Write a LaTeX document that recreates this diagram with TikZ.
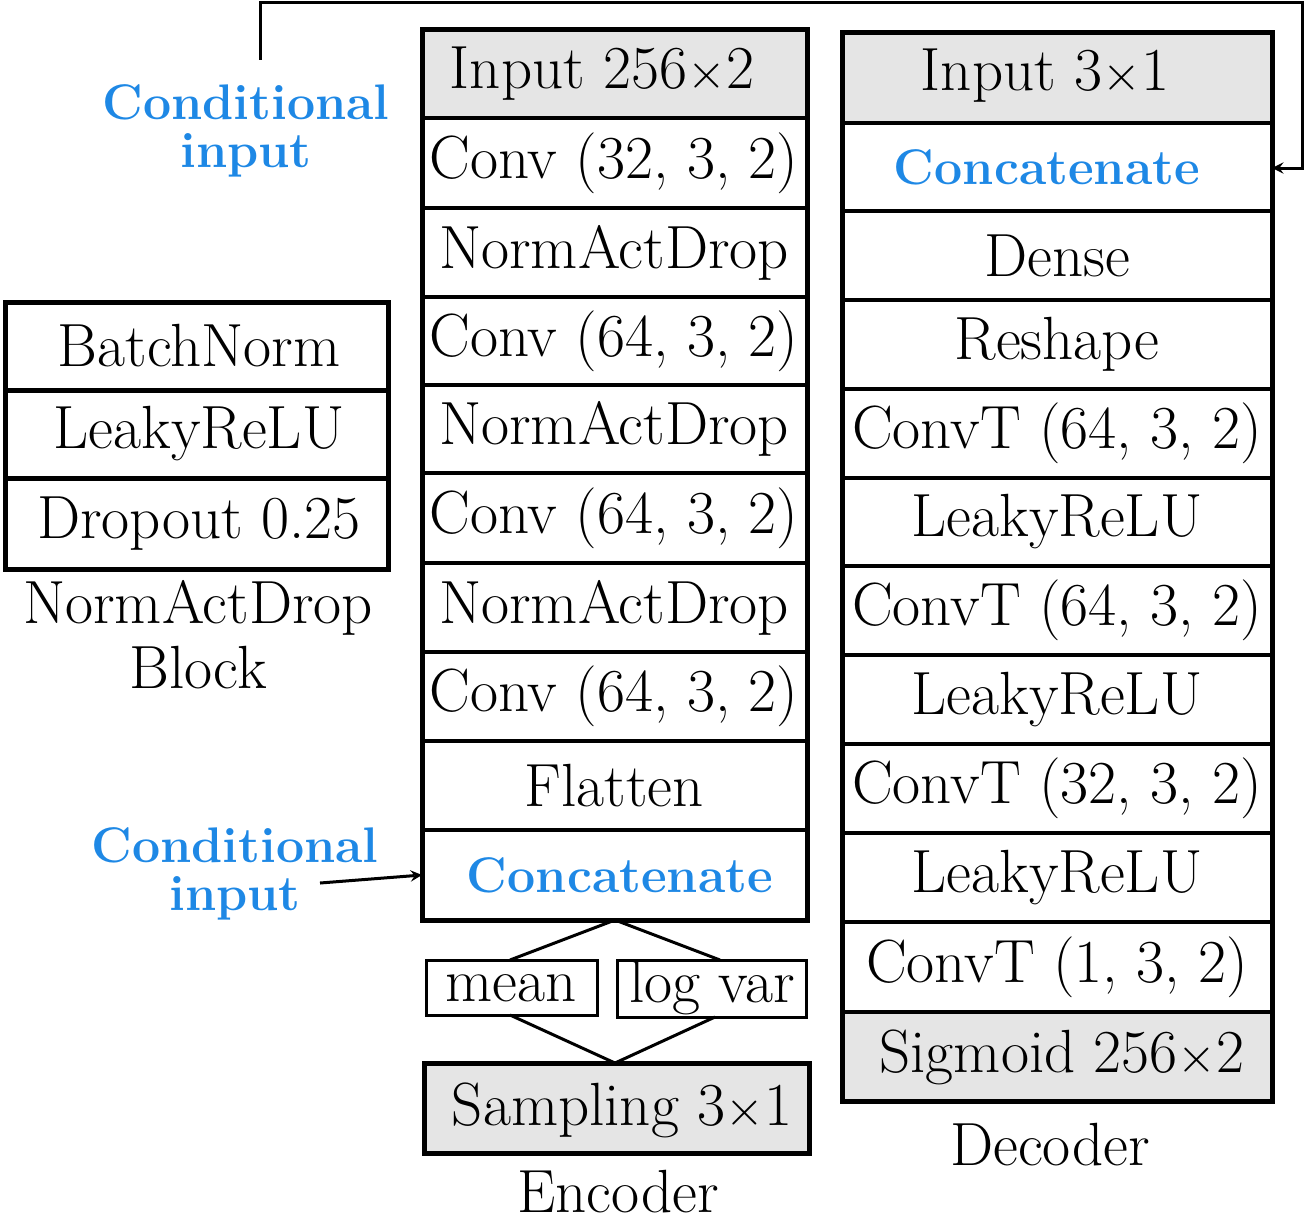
\documentclass[tikz,border=0pt]{standalone}
\begin{document}
\begin{tikzpicture}[x=0.5pt,y=-0.5pt,
  txt/.style={font=\fontsize{30.5}{34}\selectfont,inner sep=0pt},
  btxt/.style={font=\fontsize{25}{28}\selectfont\bfseries,text=cblue,inner sep=0pt}]
\definecolor{cblue}{RGB}{30,136,229}
\useasboundingbox (0,0) rectangle (1309,1220);
% encoder
\draw[line width=2pt,fill=black!10] (422,30) rectangle (807,118);
\node[txt] (e0) at (602,74) {Input 256$\times$2};
\foreach \a/\b/\t/\n in {118/208/{Conv (32, 3, 2)}/e1,208/297/NormActDrop/e2,297/385/{Conv (64, 3, 2)}/e3,385/473/NormActDrop/e4,473/563/{Conv (64, 3, 2)}/e5,563/652/NormActDrop/e6,652/741/{Conv (64, 3, 2)}/e7,741/830/Flatten/e8}
  {\draw[line width=2pt] (422,\a) rectangle (807,\b); \node[txt] (\n) at (614,{(\a+\b)/2}) {\t};}
\draw[line width=2pt] (422,830) rectangle (807,920);
\node[btxt] (ec) at (620,875) {Concatenate};
\draw[line width=2.5pt] (422,30) rectangle (807,920);
\draw[line width=1.5pt] (426,960) rectangle (597,1015);
\node[txt] (mean) at (511,988) {mean};
\draw[line width=1.5pt] (617,960) rectangle (806,1017);
\node[txt] (lv) at (712,988) {log var};
\draw[line width=1.5pt] (615,920) -- (510,960) (615,920) -- (720,960);
\draw[line width=1.5pt] (510,1015) -- (615,1063) -- (715,1017);
\draw[line width=2.5pt,fill=black!10] (424,1063) rectangle (809,1153);
\node[txt] (samp) at (622,1110) {Sampling 3$\times$1};
\node[txt] at (618,1192) {Encoder};
% decoder
\foreach \a/\b/\t/\n in {123/211/{}/d1,211/300/Dense/d2,300/389/Reshape/d3,389/478/{ConvT (64, 3, 2)}/d4,478/566/LeakyReLU/d5,566/655/{ConvT (64, 3, 2)}/d6,655/744/LeakyReLU/d7,744/833/{ConvT (32, 3, 2)}/d8,833/922/LeakyReLU/d9,922/1012/{ConvT (1, 3, 2)}/d10}
  {\draw[line width=2pt] (842,\a) rectangle (1272,\b); \node[txt] (\n) at (1057,{(\a+\b)/2}) {\t};}
\draw[line width=2pt,fill=black!10] (842,33) rectangle (1272,123);
\node[txt] (d0) at (1045,76) {Input 3$\times$1};
\draw[line width=2pt,fill=black!10] (842,1012) rectangle (1272,1101);
\node[txt] (d11) at (1062,1057) {Sigmoid 256$\times$2};
\node[btxt] (dc) at (1047,167) {Concatenate};
\draw[line width=2.5pt] (842,33) rectangle (1272,1101);
\node[txt] at (1050,1145) {Decoder};
% block
\foreach \a/\b/\t in {302/390/BatchNorm,390/478/LeakyReLU,478/569/{Dropout 0.25}}
  {\draw[line width=2.5pt] (5,\a) rectangle (388,\b); \node[txt] at (199,{(\a+\b)/2}) {\t};}
\node[txt] at (198,608) {NormActDrop};
\node[txt] at (198,668) {Block};
% conditional inputs
\node[btxt] (c1) at (246,102) {Conditional};
\node[btxt] (c1b) at (246,155) {input};
\node[btxt] (c2) at (235,845) {Conditional};
\node[btxt] (c2b) at (235,898) {input};
\coordinate (t0) at (260,60);
\coordinate (t1) at (1272,168);
\draw[line width=1.5pt,-stealth] (t0) -- (260,3) -- (1302,3) -- (1302,168) -- (t1);
\draw[line width=1.5pt,-stealth] (320,883) -- (ec.west -| 422,881);
\end{tikzpicture}
\end{document}
